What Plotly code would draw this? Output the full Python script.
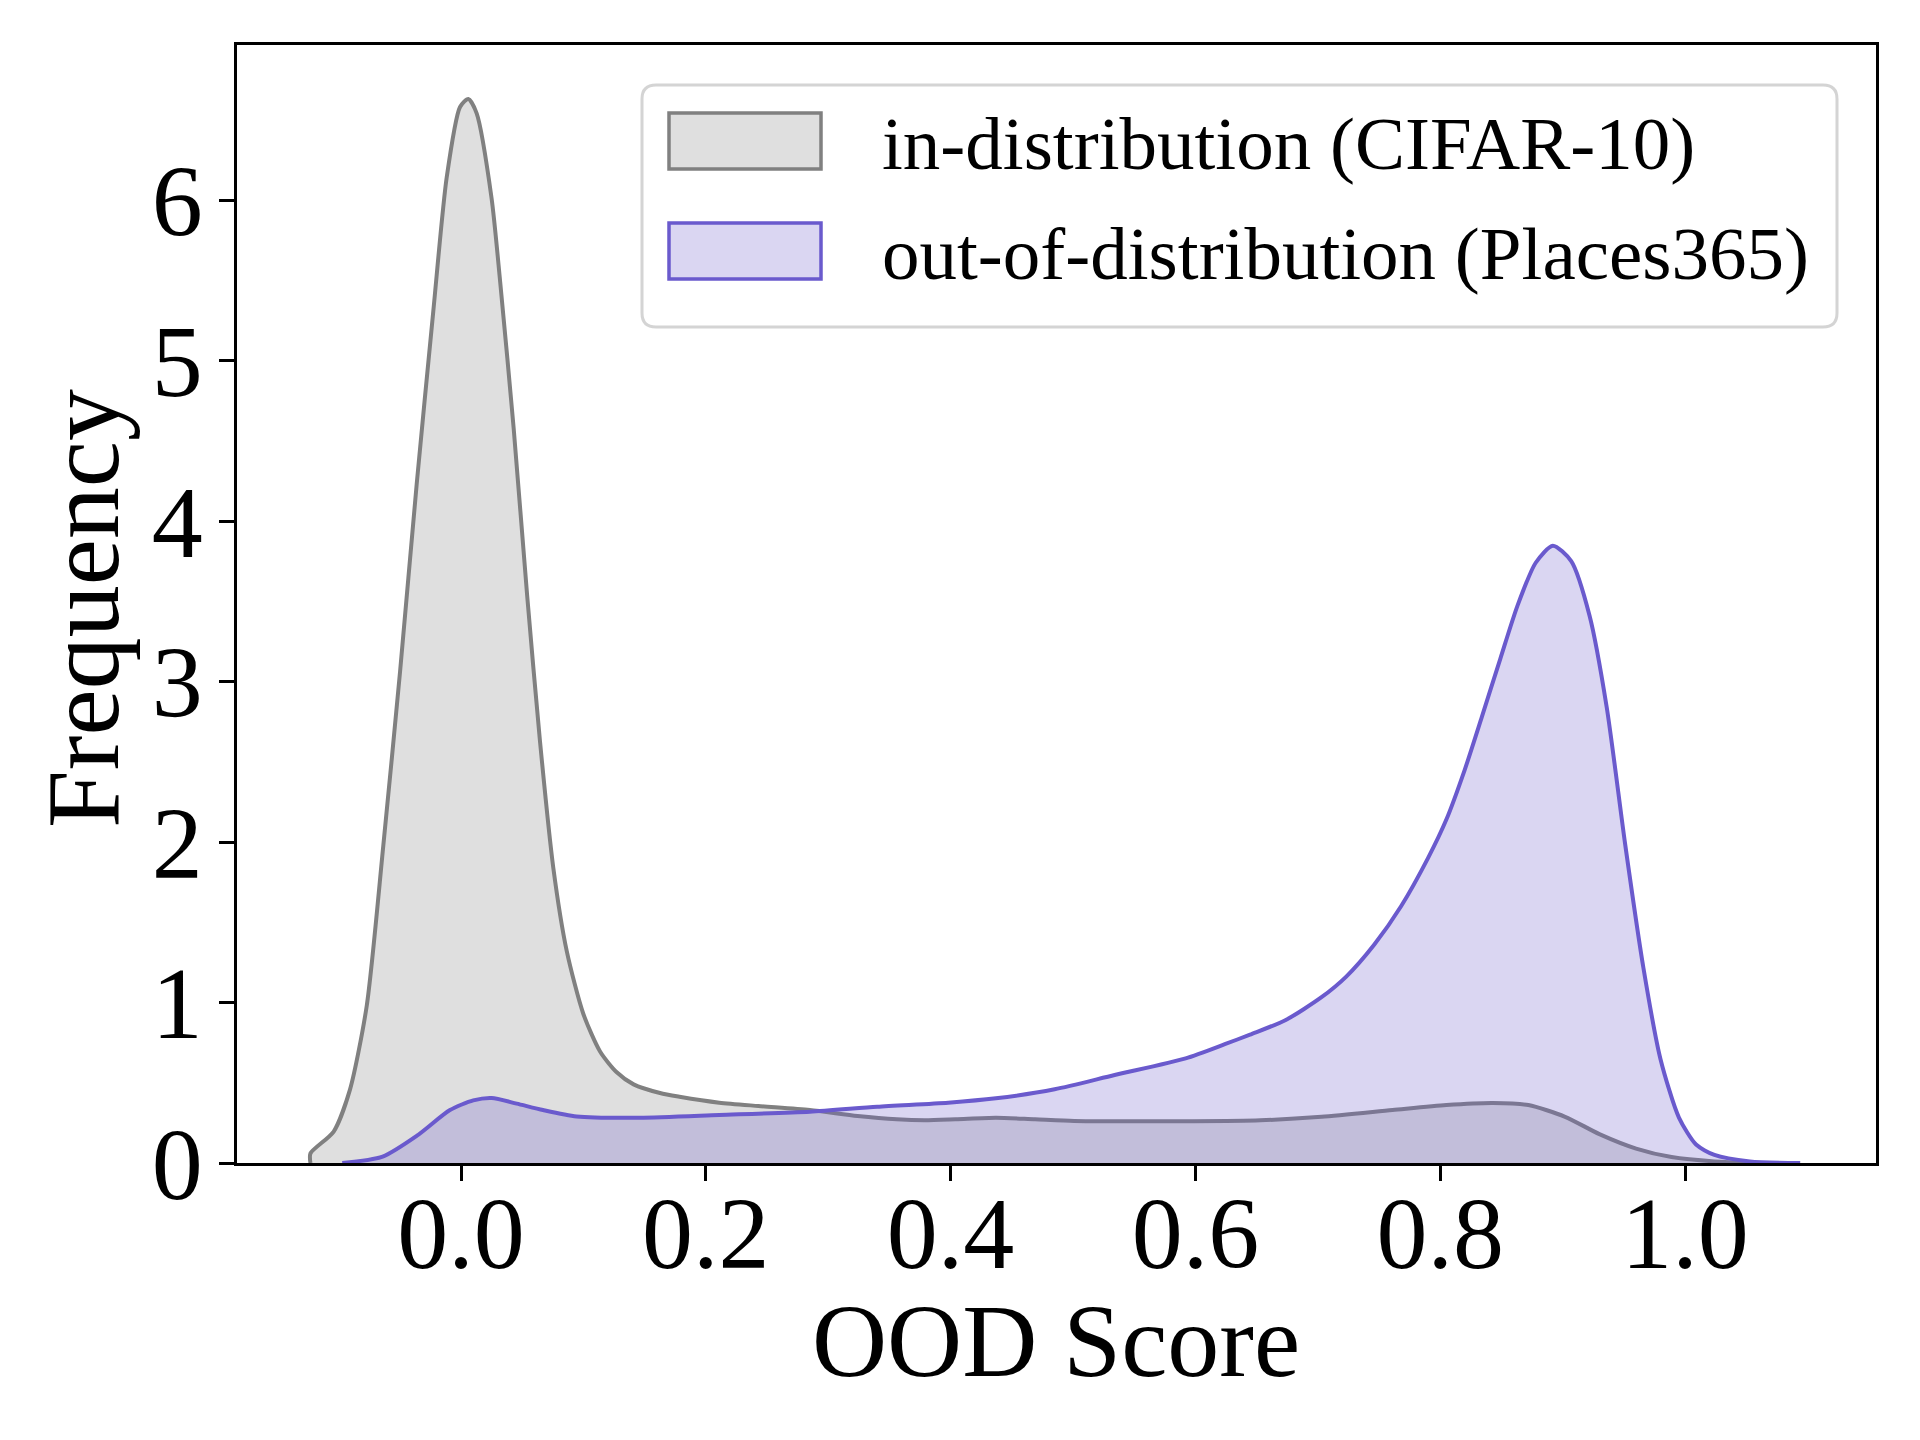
import plotly.graph_objects as go

# ---------------- data ----------------
id_x = [-0.123, -0.123, -0.104, -0.0907, -0.077, -0.0635, -0.0498, -0.0362, -0.0226,
        -0.0117, -0.0008, 0.006, 0.0128, 0.025, 0.032, 0.043, 0.054, 0.0645, 0.0754,
        0.0864, 0.0999, 0.1136, 0.127, 0.141, 0.1626, 0.1785, 0.211, 0.243, 0.285,
        0.324, 0.356, 0.379, 0.404, 0.437, 0.469, 0.501, 0.550, 0.598, 0.653, 0.703,
        0.761, 0.805, 0.843, 0.872, 0.902, 0.930, 0.960, 0.989, 1.024, 1.053, 1.094]
id_y = [0.0, 0.06, 0.196, 0.457, 0.98, 1.975, 3.06, 4.23, 5.31,
        6.14, 6.58, 6.63, 6.54, 6.01, 5.49, 4.58, 3.54, 2.63, 1.84,
        1.32, 0.93, 0.695, 0.567, 0.49, 0.436, 0.413, 0.376, 0.355, 0.33,
        0.293, 0.272, 0.266, 0.272, 0.282, 0.272, 0.262, 0.26, 0.26, 0.266, 0.288,
        0.33, 0.361, 0.374, 0.361, 0.288, 0.18, 0.09, 0.037, 0.01, 0.002, 0.0]

ood_x = [-0.097, -0.064, -0.036, -0.009, 0.010, 0.025, 0.0455, 0.067, 0.0945, 0.146,
         0.211, 0.285, 0.340, 0.398, 0.437, 0.485, 0.534, 0.592, 0.624, 0.6446,
         0.6738, 0.703, 0.723, 0.746, 0.768, 0.790, 0.805, 0.820, 0.834, 0.849,
         0.863, 0.878, 0.892, 0.907, 0.922, 0.936, 0.951, 0.966, 0.980, 0.995,
         1.009, 1.024, 1.053, 1.094]
ood_y = [0.0, 0.04, 0.17, 0.33, 0.39, 0.405, 0.37, 0.33, 0.29, 0.282,
         0.299, 0.32, 0.351, 0.376, 0.403, 0.459, 0.548, 0.652, 0.74, 0.80,
         0.891, 1.033, 1.16, 1.36, 1.60, 1.90, 2.14, 2.45, 2.78, 3.14,
         3.47, 3.74, 3.846, 3.75, 3.41, 2.84, 1.99, 1.215, 0.645, 0.283,
         0.115, 0.05, 0.01, 0.0]

x_ticks = [0.0, 0.2, 0.4, 0.6, 0.8, 1.0]
x_tick_labels = ["0.0", "0.2", "0.4", "0.6", "0.8", "1.0"]
y_ticks = [0, 1, 2, 3, 4, 5, 6]
y_tick_labels = ["0", "1", "2", "3", "4", "5", "6"]

label_id = "in-distribution (CIFAR-10)"
label_ood = "out-of-distribution (Places365)"
x_title = "OOD Score"
y_title = "Frequency"

# ---------------- styles ----------------
FONT = "Liberation Serif, Times New Roman, serif"
GRAY_LINE = "#808080"
GRAY_FILL = "rgba(128,128,128,0.25)"
PURPLE_LINE = "#6A5ACD"
PURPLE_FILL = "rgba(106,90,205,0.25)"

OFF = 8  # page body margin in the browser
W, H = 1904, 1424
# plot area in screen pixels: x 237..1876, y 45..1163
ML, MT = 237 - OFF, 45 - OFF
MR = W - (1876 - OFF)
MB = H - (1163 - OFF)
PW, PH = W - ML - MR, H - MT - MB


def px(xs):
    """screen x pixel -> paper fraction"""
    return (xs - OFF - ML) / PW


def py(ys):
    """screen y pixel -> paper fraction"""
    return (H - MB - (ys - OFF)) / PH


fig = go.Figure()
fig.add_trace(go.Scatter(x=id_x, y=id_y, mode="lines", fill="tozeroy",
                         fillcolor=GRAY_FILL,
                         line=dict(color=GRAY_LINE, width=4, shape="spline",
                                   smoothing=0.7),
                         name=label_id, showlegend=False))
fig.add_trace(go.Scatter(x=ood_x, y=ood_y, mode="lines", fill="tozeroy",
                         fillcolor=PURPLE_FILL,
                         line=dict(color=PURPLE_LINE, width=4, shape="spline",
                                   smoothing=0.7),
                         name=label_ood, showlegend=False))


# ---------------- legend drawn by hand (matplotlib look) ----------------
def rounded_rect(x0s, y0s, x1s, y1s, r):
    rx, ry = r / PW, r / PH
    a, b = px(x0s), px(x1s)
    top, bot = py(y0s), py(y1s)
    return (f"M {a+rx},{top} L {b-rx},{top} Q {b},{top} {b},{top-ry} "
            f"L {b},{bot+ry} Q {b},{bot} {b-rx},{bot} L {a+rx},{bot} "
            f"Q {a},{bot} {a},{bot+ry} L {a},{top-ry} Q {a},{top} {a+rx},{top} Z")


shapes = [
    dict(type="path", xref="paper", yref="paper",
         path=rounded_rect(642, 85, 1837, 327, 14),
         line=dict(color="rgba(204,204,204,0.85)", width=3),
         fillcolor="rgba(255,255,255,0.8)", layer="above"),
    dict(type="rect", xref="paper", yref="paper",
         x0=px(669), x1=px(821), y0=py(169), y1=py(113),
         line=dict(color=GRAY_LINE, width=3.5), fillcolor=GRAY_FILL, layer="above"),
    dict(type="rect", xref="paper", yref="paper",
         x0=px(669), x1=px(821), y0=py(279), y1=py(223),
         line=dict(color=PURPLE_LINE, width=3.5), fillcolor=PURPLE_FILL, layer="above"),
]

annotations = [
    dict(text=label_id, xref="paper", yref="paper", x=px(880), y=py(143),
         xanchor="left", yanchor="middle", showarrow=False,
         font=dict(family=FONT, size=75, color="black")),
    dict(text=label_ood, xref="paper", yref="paper", x=px(880), y=py(253),
         xanchor="left", yanchor="middle", showarrow=False,
         font=dict(family=FONT, size=75, color="black")),
    dict(text=x_title, xref="paper", yref="paper", x=px(1056), y=py(1340),
         xanchor="center", yanchor="middle", showarrow=False,
         font=dict(family=FONT, size=104, color="black")),
    dict(text=y_title, xref="paper", yref="paper", x=px(82), y=py(609),
         xanchor="center", yanchor="middle", showarrow=False, textangle=-90,
         font=dict(family=FONT, size=104, color="black")),
]

axis_common = dict(
    showline=True, linecolor="black", linewidth=2.5, mirror=True,
    ticks="outside", ticklen=15, tickwidth=2.5, tickcolor="black",
    showgrid=False, zeroline=False,
    tickfont=dict(family=FONT, size=102, color="black"),
)

fig.update_layout(
    width=W, height=H,
    margin=dict(l=ML, r=MR, t=MT, b=MB),
    paper_bgcolor="white", plot_bgcolor="white",
    font=dict(family=FONT, color="black"),
    shapes=shapes, annotations=annotations,
    xaxis=dict(range=[-0.183, 1.156], tickvals=x_ticks, ticktext=x_tick_labels,
               ticklabelstandoff=-35, **axis_common),
    yaxis=dict(range=[0, 6.966], tickvals=y_ticks, ticktext=y_tick_labels,
               ticklabelstandoff=-4, **axis_common),
)

fig.write_html("out.html")
